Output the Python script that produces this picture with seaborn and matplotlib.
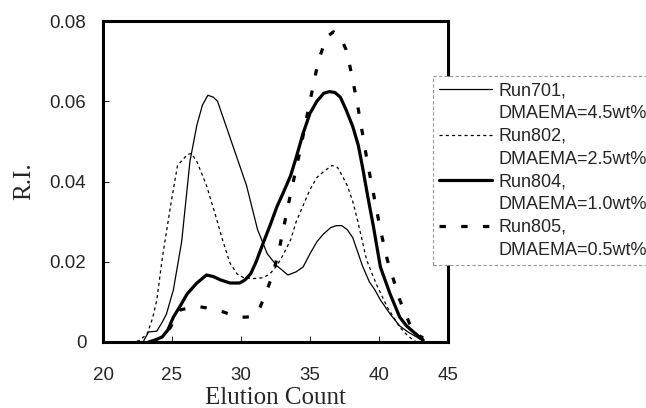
import numpy as np
import pandas as pd
import matplotlib
matplotlib.use("Agg")
import matplotlib.pyplot as plt
from matplotlib.lines import Line2D
import seaborn as sns

# Elution curves (elution count, R.I.)
run701_x = [22.9, 23.3, 23.9, 24.3, 24.6, 25.1, 25.7, 26.3, 26.8, 27.2, 27.6, 28.0, 28.3, 28.7,
            29.1, 29.7, 30.4, 31.2, 31.9, 32.6, 33.4, 34.0, 34.5, 35.0, 35.5, 36.0, 36.5, 36.9,
            37.3, 37.7, 38.1, 38.5, 38.8, 39.3, 39.7, 40.1, 40.8, 41.5, 42.1, 42.7, 43.3]
run701_y = [0.0, 0.0025, 0.0027, 0.005, 0.007, 0.013, 0.025, 0.045, 0.054, 0.059, 0.0615, 0.061,
             0.060, 0.056, 0.052, 0.046, 0.039, 0.028, 0.022, 0.019, 0.0167, 0.0175, 0.0187, 0.022,
             0.025, 0.027, 0.0285, 0.029, 0.029, 0.028, 0.026, 0.022, 0.019, 0.015, 0.013, 0.0105,
             0.007, 0.004, 0.0025, 0.0013, 0.0]

run802_x = [22.0, 22.6, 23.2, 23.6, 23.9, 24.3, 24.9, 25.4, 25.8, 26.1, 26.4, 26.8, 27.5, 28.2,
            28.7, 29.2, 29.7, 30.2, 30.9, 31.6, 32.1, 32.6, 33.1, 33.6, 34.0, 34.5, 35.0, 35.5,
            36.0, 36.6, 37.0, 37.4, 37.7, 38.1, 38.4, 38.8, 39.1, 39.5, 39.9, 40.6, 41.5, 42.1, 42.7]
run802_y = [0.0, 0.0003, 0.002, 0.006, 0.0105, 0.021, 0.034, 0.044, 0.0455, 0.0467, 0.047, 0.045,
            0.039, 0.031, 0.025, 0.0197, 0.017, 0.016, 0.0158, 0.016, 0.017, 0.019, 0.022, 0.0255,
            0.030, 0.034, 0.038, 0.041, 0.0425, 0.044, 0.0435, 0.041, 0.039, 0.035, 0.031, 0.025,
            0.0205, 0.017, 0.0137, 0.0087, 0.0037, 0.0015, 0.0]

run804_x = [23.3, 23.8, 24.3, 24.7, 25.1, 25.6, 26.1, 26.8, 27.5, 28.0, 28.5, 29.2, 29.9, 30.3,
            30.7, 31.1, 31.6, 32.1, 32.6, 33.1, 33.6, 34.0, 34.5, 35.0, 35.5, 36.0, 36.4, 36.8,
            37.2, 37.6, 38.1, 38.5, 38.8, 39.2, 39.6, 40.1, 40.8, 41.5, 42.0, 42.5, 43.2]
run804_y = [0.0, 0.0005, 0.0013, 0.003, 0.0062, 0.009, 0.012, 0.0147, 0.0167, 0.0163, 0.0155,
            0.0147, 0.0147, 0.0155, 0.017, 0.020, 0.0246, 0.029, 0.0337, 0.0375, 0.0415, 0.046,
            0.052, 0.057, 0.060, 0.062, 0.0624, 0.0622, 0.061, 0.058, 0.0537, 0.049, 0.0437,
            0.036, 0.0287, 0.0187, 0.012, 0.0062, 0.004, 0.0025, 0.0005]

run805_x = [23.5, 24.1, 24.5, 24.9, 25.2, 25.6, 26.0, 26.5, 27.0, 27.5, 28.1, 28.7, 29.3, 29.9,
            30.4, 30.9, 31.3, 31.6, 32.0, 32.3, 32.7, 33.0, 33.5, 34.3, 35.0, 35.6, 36.2, 36.7,
            37.2, 37.6, 37.9, 38.4, 38.8, 39.2, 39.6, 40.1, 40.6, 41.1, 41.5, 42.2, 42.7, 43.2]
run805_y = [0.0, 0.001, 0.002, 0.0037, 0.006, 0.008, 0.0083, 0.0087, 0.0088, 0.0085, 0.008,
            0.0075, 0.0068, 0.0062, 0.0062, 0.0065, 0.008, 0.0105, 0.014, 0.017, 0.022, 0.027,
            0.0354, 0.048, 0.060, 0.070, 0.076, 0.0773, 0.076, 0.073, 0.0686, 0.060, 0.052,
            0.044, 0.037, 0.028, 0.0205, 0.015, 0.0105, 0.0047, 0.002, 0.001]

run_names = ["Run701,", "Run802,", "Run804,", "Run805,"]
run_notes = ["DMAEMA=4.5wt%", "DMAEMA=2.5wt%", "DMAEMA=1.0wt%", "DMAEMA=0.5wt%"]
x_ticks = [20, 25, 30, 35, 40, 45]
y_ticks = [0, 0.02, 0.04, 0.06, 0.08]
y_tick_labels = ["0", "0.02", "0.04", "0.06", "0.08"]

sns.set_style("white")
plt.rcParams["font.family"] = ["Liberation Sans", "DejaVu Sans"]

series = [(run701_x, run701_y), (run802_x, run802_y), (run804_x, run804_y), (run805_x, run805_y)]
styles = [
    dict(lw=0.9, ls="-"),
    dict(lw=0.9, ls=(0, (2.5, 2.5))),
    dict(lw=2.3, ls="-"),
    dict(lw=2.3, ls=(0, (2.0, 4.8))),
]

fig = plt.figure(figsize=(6.46, 4.08), dpi=100)
ax = fig.add_axes([103 / 646, 1 - 342 / 408, 345 / 646, 321 / 408])

for (xs, ys), st in zip(series, styles):
    df = pd.DataFrame({"x": xs, "y": ys})
    sns.lineplot(data=df, x="x", y="y", ax=ax, color="black", linewidth=st["lw"],
                 linestyle=st["ls"], estimator=None, sort=False, legend=False)

ax.set_xlim(20, 45)
ax.set_ylim(0, 0.08)
ax.set_xticks(x_ticks)
ax.set_yticks(y_ticks)
ax.set_yticklabels(y_tick_labels)
ax.tick_params(axis="both", direction="in", length=4, width=0.8, labelsize=13.5,
               bottom=True, left=True, top=False, right=False)
ax.tick_params(axis="x", pad=18)
ax.tick_params(axis="y", pad=12)
for sp in ax.spines.values():
    sp.set_linewidth(2.2)
    sp.set_color("black")

ax.set_xlabel("Elution Count", family=["Liberation Serif"], fontsize=18, labelpad=2)
ax.set_ylabel("R.I.", family=["Liberation Serif"], fontsize=18, labelpad=10)

# legend: handle on the first line of each entry, second line without handle
handles, labels = [], []
for st, name, note in zip(styles, run_names, run_notes):
    handles.append(Line2D([], [], color="black", linewidth=st["lw"], linestyle=st["ls"]))
    labels.append(name)
    handles.append(Line2D([], [], color="none"))
    labels.append(note)

leg = ax.legend(handles, labels, loc="upper left", bbox_to_anchor=(433 / 646, 1 - 76 / 408),
                bbox_transform=fig.transFigure, borderaxespad=0, fontsize=13,
                frameon=True, fancybox=False, framealpha=1, handlelength=2.9,
                handletextpad=0.4, labelspacing=0.32, borderpad=0.35)
frame = leg.get_frame()
frame.set_edgecolor("#999999")
frame.set_linewidth(0.8)
frame.set_linestyle((0, (3, 2)))

fig.savefig("out.png", dpi=100)
